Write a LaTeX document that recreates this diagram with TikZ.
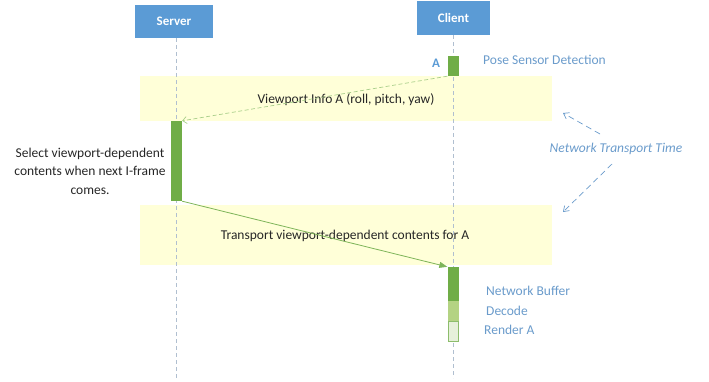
\documentclass[tikz,border=0pt]{standalone}
\usepackage{fontspec}
\setmainfont{Carlito}
\usetikzlibrary{arrows.meta}
\definecolor{hdrblue}{HTML}{5B9BD5}
\definecolor{txtblue}{HTML}{6A9BCB}
\definecolor{actgreen}{HTML}{70AD47}
\definecolor{decgreen}{HTML}{B4D383}
\definecolor{rendgreen}{HTML}{E6F0DA}
\definecolor{bandyellow}{HTML}{FFFFD8}
\definecolor{lifegray}{HTML}{B0BFD0}
\definecolor{dashgreen}{HTML}{A9CF8A}
\begin{document}
\begin{tikzpicture}[x=1pt,y=-1pt,
  hdr/.style={draw=none,fill=hdrblue,text=white,font=\bfseries\fontsize{13}{15}\selectfont,inner sep=0pt},
  band/.style={draw=none,fill=bandyellow,inner sep=0pt,anchor=north west},
  actbar/.style={draw=none,fill=actgreen,minimum width=11pt,inner sep=0pt},
  lifeline/.style={draw=lifegray,dashed,dash pattern=on 4pt off 3pt,line width=0.6pt},
  lbl/.style={font=\fontsize{13.5}{16}\selectfont,text=black!85,inner sep=0pt},
  bluelbl/.style={font=\fontsize{13.5}{16}\selectfont,text=txtblue,inner sep=0pt,anchor=west},
  ntt/.style={draw=txtblue,dash pattern=on 6pt off 4pt,line width=0.7pt,-{Straight Barb[length=5pt,width=7pt]}}
]
\useasboundingbox (0,0) rectangle (709,381);
% bands
\node[band,minimum width=412pt,minimum height=45pt] (band1) at (140,76) {};
\node[band,minimum width=412pt,minimum height=60pt] (band2) at (140,205) {};
% headers
\node[hdr,minimum width=78pt,minimum height=33pt] (server) at (174,21.5) {Server};
\node[hdr,minimum width=73pt,minimum height=34pt] (client) at (453.5,18) {Client};
% lifelines
\coordinate (sEnd) at (176,378);
\coordinate (cEnd) at (453,378);
\coordinate (sTop) at (176,38);
\coordinate (cTop) at (453,35);
\draw[lifeline] (sTop) -- (sEnd);
\draw[lifeline] (cTop) -- (cEnd);
% activation bars
\node[actbar,minimum height=20pt] (actA) at (453,66) {};
\node[actbar,minimum height=80pt] (srvact) at (176.5,161) {};
\node[actbar,minimum height=34pt] (buf) at (453,284) {};
\node[actbar,fill=decgreen,minimum height=20pt] (dec) at (453,311) {};
\node[actbar,fill=rendgreen,draw=actgreen!80,line width=0.5pt,minimum height=20pt,minimum width=10.5pt] (rend) at (453,331) {};
% labels
\node[font=\bfseries\fontsize{13}{15}\selectfont,text=hdrblue,inner sep=0pt] (labA) at (436,63) {A};
\node[bluelbl] (pose) at (483,60) {Pose Sensor Detection};
\node[lbl] (vpinfo) at (346,100) {Viewport Info A (roll, pitch, yaw)};
\node[lbl,align=center,font=\fontsize{13.5}{18.5}\selectfont] (select) at (90,171) {Select viewport-dependent\\contents when next I-frame\\comes.};
\node[lbl] (transp) at (345,236) {Transport viewport-dependent contents for A};
\node[bluelbl] (nbuf) at (486,291) {Network Buffer};
\node[bluelbl] (ndec) at (486,311) {Decode};
\node[bluelbl] (nrend) at (484,330) {Render A};
\node[font=\itshape\fontsize{13.5}{16}\selectfont,text=txtblue,inner sep=0pt] (ntt) at (616,149) {Network Transport Time};
% messages
\draw[draw=dashgreen,dash pattern=on 4pt off 2.5pt,line width=0.7pt,-{Straight Barb[length=4pt,width=7pt]}] (actA.south west) -- (srvact.north east);
\draw[draw=actgreen!90,line width=0.8pt,-{Triangle[length=8pt,width=6pt]}] (srvact.south east) -- (buf.north west);
% network transport time arrows
\coordinate (up) at (563,113);
\coordinate (dn) at (563,212);
\draw[ntt] (600,134) -- (up);
\draw[ntt] (612,164) -- (dn);
\end{tikzpicture}
\end{document}
